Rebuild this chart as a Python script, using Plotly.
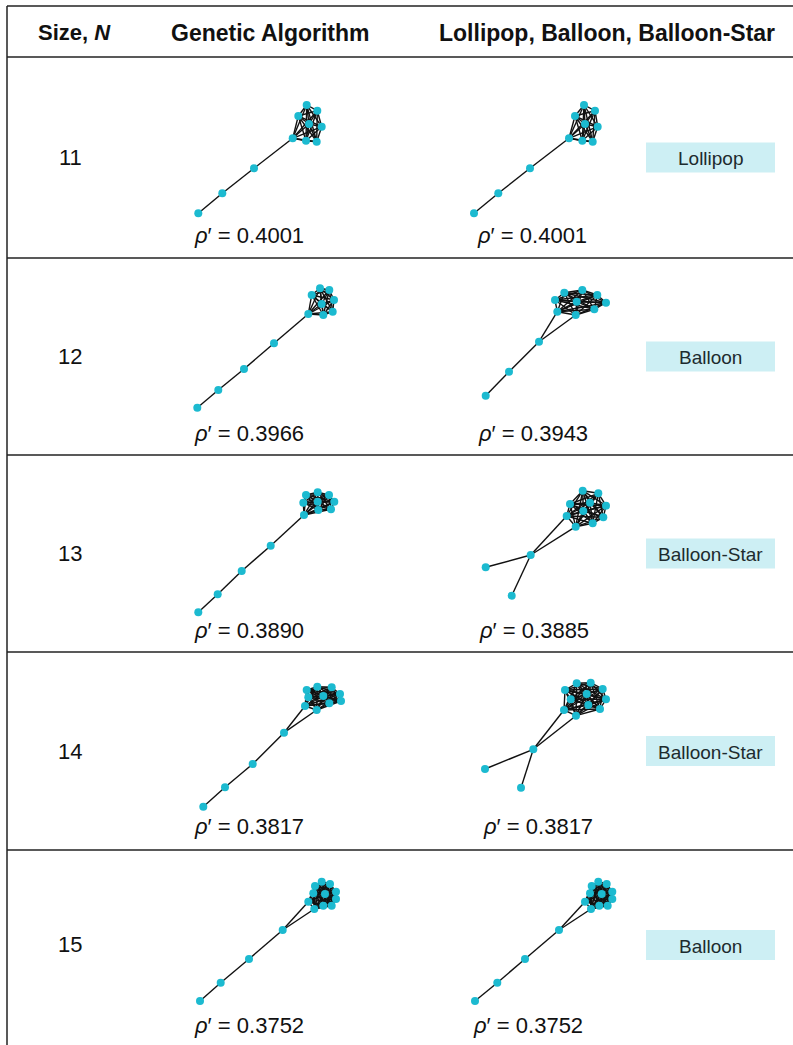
import itertools
import plotly.graph_objects as go

FIG_W, FIG_H = 793, 1045

# ---- table content -------------------------------------------------------
SIZES = [11, 12, 13, 14, 15]
GA_RHO = [0.4001, 0.3966, 0.3890, 0.3817, 0.3752]
REF_RHO = [0.4001, 0.3943, 0.3885, 0.3817, 0.3752]
REF_TYPE = ["Lollipop", "Balloon", "Balloon-Star", "Balloon-Star", "Balloon"]

# ---- genetic-algorithm graphs: layout coordinates (y grows downward) ----
GA_X = [
    [18.3, 42.3, 74.0, 112.7, 126.7, 118.3, 137.3, 129.0, 141.7, 126.0, 136.7],
    [17.3, 38.3, 64.0, 94.0, 128.3, 143.3, 152.7, 154.0, 149.3, 140.0, 131.7, 141.7],
    [18.3, 37.7, 61.7, 90.7, 124.0, 126.0, 137.7, 149.0, 154.3, 151.0, 138.3, 123.3, 137.7],
    [23.3, 45.0, 72.7, 104.0, 125.0, 136.7, 126.7, 137.3, 151.7, 160.0, 161.0, 149.3, 143.3, 128.3],
    [20.0, 40.7, 69.0, 102.7, 128.3, 134.3, 141.7, 150.0, 156.0, 156.0, 151.7, 143.3, 133.3, 135.0, 145.0],
]
GA_Y = [
    [123.3, 103.3, 78.3, 48.3, 15.0, 26.0, 20.7, 34.0, 36.7, 50.7, 51.7],
    [127.7, 110.0, 89.0, 63.3, 34.0, 35.0, 31.7, 20.0, 10.0, 8.3, 15.0, 24.0],
    [132.3, 114.3, 91.0, 65.7, 35.0, 15.0, 12.3, 15.0, 21.7, 29.3, 30.0, 22.7, 21.7],
    [136.7, 117.3, 94.0, 62.7, 36.0, 40.0, 20.0, 16.7, 17.3, 24.0, 31.0, 33.3, 26.0, 27.3],
    [141.0, 122.7, 99.0, 70.0, 41.7, 49.0, 21.7, 24.0, 31.7, 39.0, 45.7, 45.7, 33.3, 26.0, 34.0],
]
# tail / bridge edges, and the first node index of the dense core
GA_LINKS = [
    [(0, 1), (1, 2), (2, 3)],
    [(0, 1), (1, 2), (2, 3), (3, 4)],
    [(0, 1), (1, 2), (2, 3), (3, 4)],
    [(0, 1), (1, 2), (2, 3), (3, 4), (3, 5)],
    [(0, 1), (1, 2), (2, 3), (3, 4), (3, 5)],
]
GA_CORE = [3, 4, 4, 4, 4]

# ---- lollipop / balloon / balloon-star graphs ----------------------------
REF_X = [
    [14.0, 38.3, 70.0, 109.0, 124.0, 115.0, 135.0, 125.0, 137.7, 122.3, 132.7],
    [15.7, 39.0, 69.0, 87.3, 105.7, 85.0, 94.3, 112.3, 127.3, 136.0, 124.3, 106.7],
    [15.7, 41.7, 60.7, 96.7, 105.7, 112.7, 128.3, 100.0, 120.0, 136.0, 113.3, 133.3, 122.7],
    [15.0, 51.0, 63.3, 94.0, 106.0, 106.7, 120.7, 132.7, 95.0, 116.7, 100.7, 136.0, 118.3, 130.0],
    [15.0, 37.3, 65.0, 99.0, 125.0, 131.0, 138.3, 146.7, 152.3, 152.3, 147.7, 139.3, 130.0, 131.7, 141.7],
]
REF_Y = [
    [123.3, 103.3, 78.3, 48.3, 15.0, 26.0, 20.7, 34.0, 36.7, 50.7, 51.7],
    [115.7, 91.7, 61.7, 31.7, 35.0, 20.0, 12.7, 10.0, 15.0, 22.7, 29.3, 21.7],
    [87.3, 115.7, 75.0, 36.0, 46.7, 10.7, 13.3, 24.0, 22.7, 25.7, 31.0, 37.3, 43.3],
    [99.0, 117.7, 79.3, 40.0, 45.7, 13.3, 12.7, 19.0, 20.0, 24.0, 29.3, 29.3, 35.0, 39.0],
    [141.0, 122.7, 99.0, 70.0, 41.7, 49.0, 21.7, 24.0, 31.7, 39.0, 45.7, 45.7, 33.3, 26.0, 34.0],
]
REF_LINKS = [
    [(0, 1), (1, 2), (2, 3)],
    [(0, 1), (1, 2), (2, 3), (2, 4)],
    [(0, 2), (1, 2), (2, 3), (2, 4)],
    [(0, 2), (1, 2), (2, 3), (2, 4)],
    [(0, 1), (1, 2), (2, 3), (3, 4), (3, 5)],
]
REF_CORE = [3, 3, 3, 3, 4]

# ---- page geometry (pixels) ----------------------------------------------
ROW_LINES = [57, 258, 455, 652, 850]
ROW_BOTTOM = FIG_H
TABLE_LEFT, TABLE_TOP = 7, 6
PANEL_Y = [90, 280, 480, 670, 860]
GA_PANEL_X = [180, 180, 180, 180, 180]
REF_PANEL_X = [460, 470, 470, 470, 460]
PANEL_W, PANEL_H = 170, 170
RHO_Y = [236, 433, 630, 826, 1025]
GA_RHO_X = 249
REF_RHO_X = [532, 533, 534, 538, 528]
SIZE_X = 70
BADGE_X0, BADGE_X1, BADGE_H = 646, 775, 30

NODE_COLOR = "#1cbad0"
EDGE_COLOR = "#111111"
RULE_COLOR = "#222222"
BADGE_FILL = "#cdeff4"
FONT = "Liberation Sans, Arial, sans-serif"


def px(x):
    return x / FIG_W


def py(y):
    return 1 - y / FIG_H


def graph_edges(links, core, n):
    edges = list(links)
    edges += list(itertools.combinations(range(core, n), 2))
    return edges


fig = go.Figure()
layout_axes = {}
axis_no = 0


def add_graph(xs, ys, links, core, x0, y0):
    global axis_no
    axis_no += 1
    suffix = "" if axis_no == 1 else str(axis_no)
    layout_axes["xaxis" + suffix] = dict(
        domain=[px(x0), px(x0 + PANEL_W)], range=[0, PANEL_W],
        visible=False, fixedrange=True, anchor="y" + suffix)
    layout_axes["yaxis" + suffix] = dict(
        domain=[py(y0 + PANEL_H), py(y0)], range=[PANEL_H, 0],
        visible=False, fixedrange=True, anchor="x" + suffix)
    ex, ey = [], []
    for a, b in graph_edges(links, core, len(xs)):
        ex += [xs[a], xs[b], None]
        ey += [ys[a], ys[b], None]
    fig.add_trace(go.Scatter(
        x=ex, y=ey, mode="lines", xaxis="x" + suffix, yaxis="y" + suffix,
        line=dict(color=EDGE_COLOR, width=1.4), hoverinfo="skip"))
    fig.add_trace(go.Scatter(
        x=xs, y=ys, mode="markers", xaxis="x" + suffix, yaxis="y" + suffix,
        marker=dict(color=NODE_COLOR, size=8, line=dict(width=0)),
        hoverinfo="skip"))


for i in range(len(SIZES)):
    add_graph(GA_X[i], GA_Y[i], GA_LINKS[i], GA_CORE[i], GA_PANEL_X[i], PANEL_Y[i])
    add_graph(REF_X[i], REF_Y[i], REF_LINKS[i], REF_CORE[i], REF_PANEL_X[i], PANEL_Y[i])

shapes = []
annotations = []


def hline(y, x0=TABLE_LEFT, x1=FIG_W):
    shapes.append(dict(type="line", xref="paper", yref="paper",
                       x0=px(x0), x1=px(x1), y0=py(y), y1=py(y),
                       line=dict(color=RULE_COLOR, width=1.5)))


# table rules
hline(TABLE_TOP)
for y in ROW_LINES:
    hline(y)
shapes.append(dict(type="line", xref="paper", yref="paper",
                   x0=px(TABLE_LEFT), x1=px(TABLE_LEFT), y0=py(TABLE_TOP), y1=py(ROW_BOTTOM),
                   line=dict(color=RULE_COLOR, width=1.5)))


def text(x, y, s, size, color="#111111"):
    annotations.append(dict(xref="paper", yref="paper", x=px(x), y=py(y),
                            text=s, showarrow=False, xanchor="center", yanchor="middle",
                            font=dict(family=FONT, size=size, color=color)))


# header
text(74, 33, "<b>Size, <i>N</i></b>", 22)
text(270, 33, "<b>Genetic Algorithm</b>", 23)
text(607, 33, "<b>Lollipop, Balloon, Balloon-Star</b>", 23)

for i, n in enumerate(SIZES):
    top = ROW_LINES[i]
    bottom = ROW_LINES[i + 1] if i + 1 < len(ROW_LINES) else 1040
    mid = (top + bottom) / 2
    text(SIZE_X, mid, str(n), 22)
    text(GA_RHO_X, RHO_Y[i], f"<i>ρ</i>′ = {GA_RHO[i]:.4f}", 22)
    text(REF_RHO_X[i], RHO_Y[i], f"<i>ρ</i>′ = {REF_RHO[i]:.4f}", 22)
    shapes.append(dict(type="rect", xref="paper", yref="paper",
                       x0=px(BADGE_X0), x1=px(BADGE_X1),
                       y0=py(mid + BADGE_H / 2), y1=py(mid - BADGE_H / 2),
                       fillcolor=BADGE_FILL, line=dict(width=0), layer="below"))
    text((BADGE_X0 + BADGE_X1) / 2, mid + 1, REF_TYPE[i], 19, "#1d2b2e")

fig.update_layout(
    width=FIG_W, height=FIG_H,
    margin=dict(l=0, r=0, t=0, b=0),
    paper_bgcolor="white", plot_bgcolor="white",
    showlegend=False,
    shapes=shapes, annotations=annotations,
    **layout_axes,
)

fig.write_html("out.html")
